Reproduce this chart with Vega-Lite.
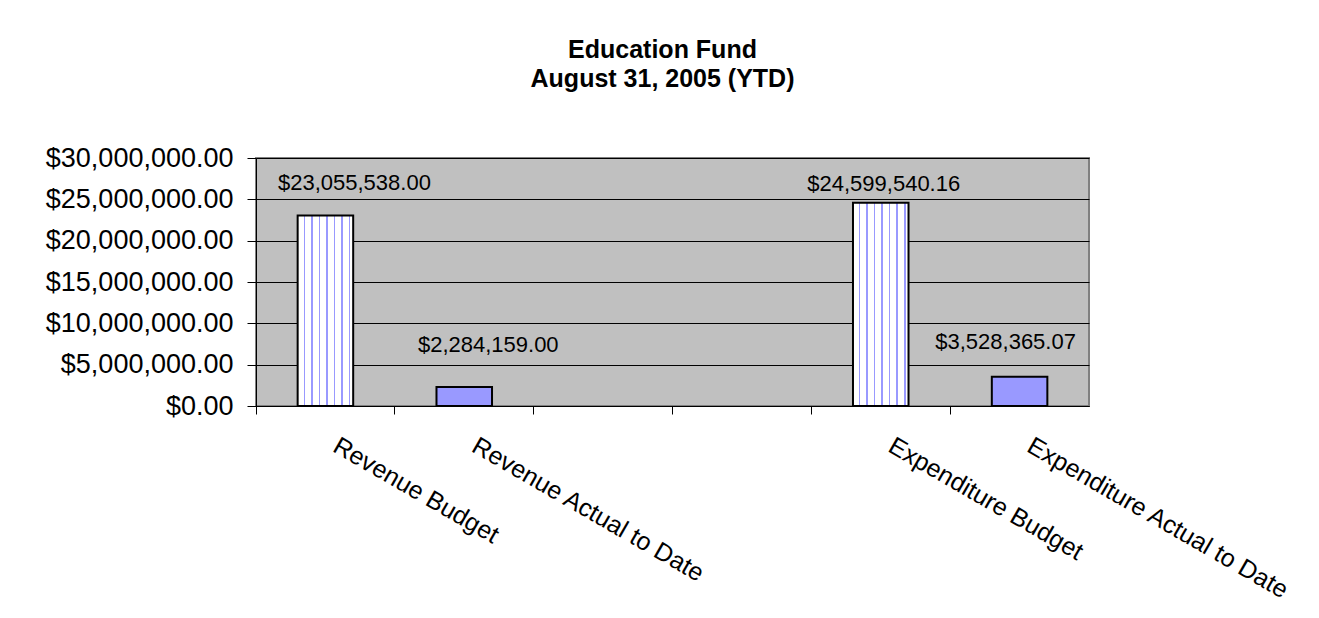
{
  "$schema": "https://vega.github.io/schema/vega-lite/v6.json",
  "autosize": "none",
  "width": 833,
  "height": 248,
  "padding": {"left": 256, "top": 158, "right": 230, "bottom": 212},
  "background": "white",
  "title": {
    "text": ["Education Fund", "August 31, 2005 (YTD)"],
    "font": "Liberation Sans",
    "fontSize": 25,
    "fontWeight": "bold",
    "color": "black",
    "anchor": "middle",
    "dx": -10,
    "offset": 52,
    "lineHeight": 29
  },
  "data": {
    "values": [
      {"category": "Revenue Budget", "amount": 23055538.00, "kind": "budget"},
      {"category": "Revenue Actual to Date", "amount": 2284159.00, "kind": "actual"},
      {"category": "Expenditure Budget", "amount": 24599540.16, "kind": "budget"},
      {"category": "Expenditure  Actual to Date", "amount": 3528365.07, "kind": "actual"}
    ]
  },
  "encoding": {
    "x": {
      "field": "category",
      "type": "nominal",
      "sort": null,
      "scale": {
        "domain": ["Revenue Budget", "Revenue Actual to Date", "gap1", "gap2", "Expenditure Budget", "Expenditure  Actual to Date"],
        "paddingInner": 0,
        "paddingOuter": 0
      },
      "axis": {
        "title": null,
        "bandPosition": 0,
        "labelOffset": 16,
        "labelAngle": 30,
        "labelAlign": "left",
        "labelBaseline": "top",
        "labelFont": "Liberation Sans",
        "labelFontSize": 25,
        "labelColor": "black",
        "labelLimit": 500,
        "labelOverlap": false,
        "labelPadding": 19,
        "labelExpr": "indexof(datum.value, 'gap') == 0 ? '' : datum.value",
        "tickSize": 8,
        "tickColor": "black",
        "domainColor": "black",
        "grid": false
      }
    },
    "y": {
      "field": "amount",
      "type": "quantitative",
      "scale": {"domain": [0, 30000000], "nice": false},
      "axis": {
        "title": null,
        "values": [0, 5000000, 10000000, 15000000, 20000000, 25000000, 30000000],
        "format": "$,.2f",
        "labelFont": "Liberation Sans",
        "labelFontSize": 27,
        "labelColor": "black",
        "labelLimit": 400,
        "labelPadding": 14,
        "tickSize": 9,
        "tickColor": "black",
        "domainColor": "black",
        "grid": true,
        "gridColor": "black",
        "gridWidth": 1
      }
    }
  },
  "layer": [
    {
      "transform": [{"filter": "datum.kind == 'budget'"}],
      "mark": {
        "type": "bar",
        "width": {"band": 0.4},
        "stroke": "black",
        "strokeWidth": 2,
        "fill": {
          "gradient": "linear",
          "x1": 0, "y1": 0, "x2": 1, "y2": 0,
          "stops": [
            {"offset": 0, "color": "white"},
            {"offset": 0.106, "color": "white"},
            {"offset": 0.106, "color": "#9999FF"},
            {"offset": 0.134, "color": "#9999FF"},
            {"offset": 0.134, "color": "white"},
            {"offset": 0.243, "color": "white"},
            {"offset": 0.243, "color": "#9999FF"},
            {"offset": 0.271, "color": "#9999FF"},
            {"offset": 0.271, "color": "white"},
            {"offset": 0.376, "color": "white"},
            {"offset": 0.376, "color": "#9999FF"},
            {"offset": 0.404, "color": "#9999FF"},
            {"offset": 0.404, "color": "white"},
            {"offset": 0.513, "color": "white"},
            {"offset": 0.513, "color": "#9999FF"},
            {"offset": 0.541, "color": "#9999FF"},
            {"offset": 0.541, "color": "white"},
            {"offset": 0.646, "color": "white"},
            {"offset": 0.646, "color": "#9999FF"},
            {"offset": 0.674, "color": "#9999FF"},
            {"offset": 0.674, "color": "white"},
            {"offset": 0.782, "color": "white"},
            {"offset": 0.782, "color": "#9999FF"},
            {"offset": 0.810, "color": "#9999FF"},
            {"offset": 0.810, "color": "white"},
            {"offset": 0.920, "color": "white"},
            {"offset": 0.920, "color": "#9999FF"},
            {"offset": 0.948, "color": "#9999FF"},
            {"offset": 0.948, "color": "white"},
            {"offset": 1, "color": "white"}
          ]
        }
      }
    },
    {
      "transform": [{"filter": "datum.kind == 'actual'"}],
      "mark": {
        "type": "bar",
        "width": {"band": 0.4},
        "stroke": "black",
        "strokeWidth": 2,
        "fill": "#9999FF"
      }
    },
    {
      "transform": [{"filter": "datum.category == 'Revenue Budget'"}],
      "mark": {"type": "text", "font": "Liberation Sans", "fontSize": 22, "color": "black", "baseline": "alphabetic", "align": "center", "dx": 29, "dy": -25},
      "encoding": {"text": {"field": "amount", "type": "quantitative", "format": "$,.2f"}}
    },
    {
      "transform": [{"filter": "datum.category == 'Revenue Actual to Date'"}],
      "mark": {"type": "text", "font": "Liberation Sans", "fontSize": 22, "color": "black", "baseline": "alphabetic", "align": "center", "dx": 24, "dy": -35},
      "encoding": {"text": {"field": "amount", "type": "quantitative", "format": "$,.2f"}}
    },
    {
      "transform": [{"filter": "datum.category == 'Expenditure Budget'"}],
      "mark": {"type": "text", "font": "Liberation Sans", "fontSize": 22, "color": "black", "baseline": "alphabetic", "align": "center", "dx": 3, "dy": -12},
      "encoding": {"text": {"field": "amount", "type": "quantitative", "format": "$,.2f"}}
    },
    {
      "transform": [{"filter": "datum.category == 'Expenditure  Actual to Date'"}],
      "mark": {"type": "text", "font": "Liberation Sans", "fontSize": 22, "color": "black", "baseline": "alphabetic", "align": "center", "dx": -14, "dy": -28},
      "encoding": {"text": {"field": "amount", "type": "quantitative", "format": "$,.2f"}}
    }
  ],
  "config": {
    "view": {"fill": "#C0C0C0", "stroke": "#808080", "strokeWidth": 2},
    "axis": {"domainWidth": 1, "tickWidth": 1}
  }
}
